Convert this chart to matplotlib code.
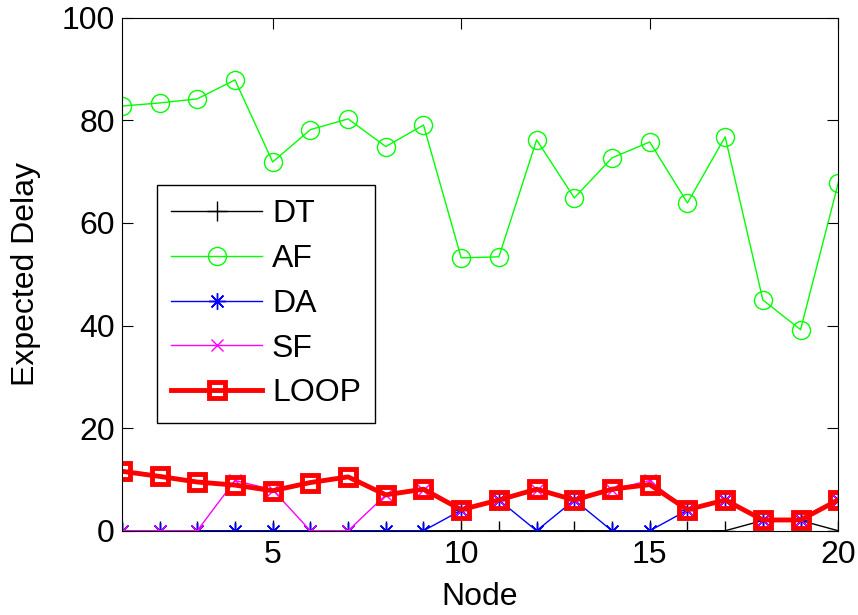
import matplotlib.pyplot as plt
import numpy as np

plt.rcParams['font.family'] = ['Liberation Sans', 'DejaVu Sans']

nodes = np.arange(1, 21)
dt = [0, 0, 0, 0, 0, 0, 0, 0, 0, 0, 0, 0, 0, 0, 0, 0, 0, 2, 2, 0]
af = [82.8, 83.4, 84.2, 87.9, 71.9, 78.2, 80.3, 74.9, 79.1, 53.2,
      53.4, 76.2, 64.9, 72.7, 75.8, 63.9, 76.8, 45.0, 39.2, 67.8]
da = [0, 0, 0, 0, 0, 0, 0, 0, 0, 4, 6, 0, 6, 0, 0, 4, 6, 2, 2, 6]
sf = [0, 0, 0, 9.8, 8, 0, 0, 7, 8, 4, 6, 8, 6, 8, 9.8, 4, 6, 2, 2, 6]
loop = [11.6, 10.6, 9.5, 8.9, 7.8, 9.4, 10.5, 7.0, 8.1, 4.1,
        6.0, 8.1, 6.0, 8.1, 9.0, 4.1, 6.0, 2.1, 2.1, 6.0]

fig = plt.figure(figsize=(8.58, 6.15), dpi=100)
ax = fig.add_axes([0.142, 0.137, 0.835, 0.834])

ax.plot(nodes, dt, color='k', marker='+', ms=14, mew=1, lw=1, label='DT')
ax.plot(nodes, af, color='#00ff00', marker='o', ms=13, mfc='none', lw=1, label='AF')
ax.plot(nodes, da, color='#0000ff', marker=(8, 2, 0), ms=12, mew=1, lw=1, label='DA')
ax.plot(nodes, sf, color='#ff00ff', marker='x', ms=9, mew=1, lw=1, label='SF')
ax.plot(nodes, loop, color='#ff0000', marker='s', ms=11, mfc='none', mew=3.5, lw=3.5, label='LOOP')

ax.set_xlim(1, 20)
ax.set_ylim(0, 100)
ax.set_xticks([5, 10, 15, 20])
ax.set_yticks([0, 20, 40, 60, 80, 100])
ax.tick_params(direction='in', labelsize=23, length=8, top=True, right=True)
ax.tick_params(axis='x', pad=7)
ax.tick_params(axis='y', pad=5)
ax.set_xlabel('Node', fontsize=23, labelpad=8)
ax.set_ylabel('Expected Delay', fontsize=23, labelpad=15)

leg = ax.legend(loc='upper left', bbox_to_anchor=(0.183, 0.699), bbox_transform=fig.transFigure,
                borderaxespad=0, fontsize=23, handlelength=2.85, handletextpad=0.3,
                labelspacing=0.46, fancybox=False, edgecolor='k', framealpha=1, borderpad=0.45)
leg.get_frame().set_linewidth(1)

fig.savefig('out.png', dpi=100)
